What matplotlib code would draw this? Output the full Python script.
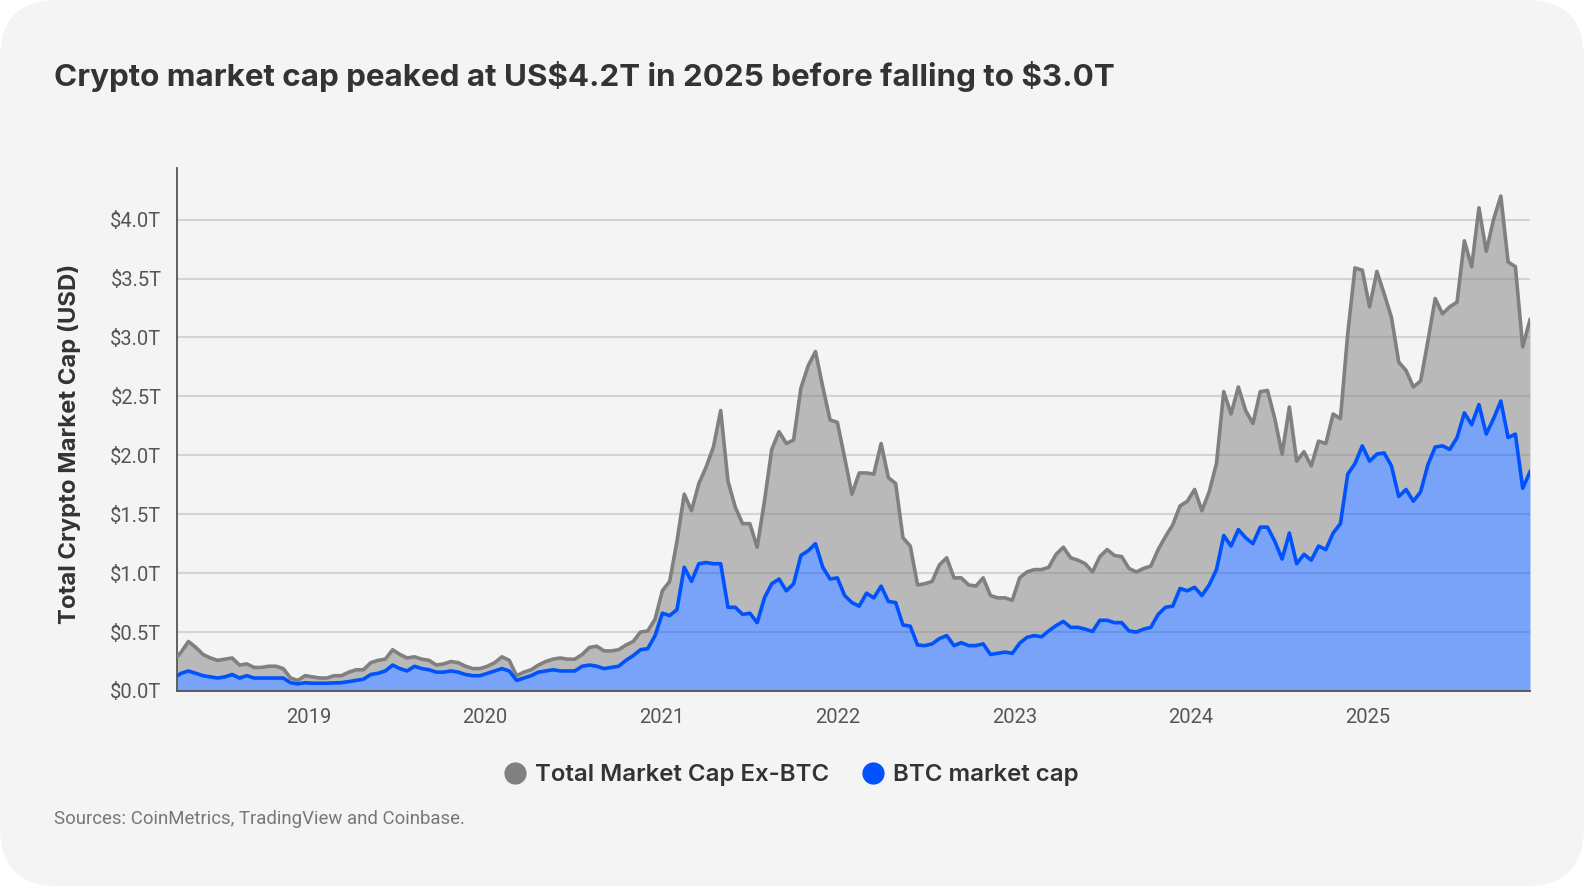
import matplotlib
matplotlib.use("Agg")
import matplotlib.pyplot as plt
import matplotlib.dates as mdates
from matplotlib.patches import FancyBboxPatch
from matplotlib.lines import Line2D
from matplotlib.ticker import MultipleLocator, FuncFormatter
import pandas as pd

# roughly semi-monthly samples, in trillions of USD
start_date = "2018-03-28"
end_date = "2025-12-04"

total_cap = [
    # 2018
    0.26, 0.33, 0.42, 0.37, 0.31, 0.28, 0.26, 0.27, 0.28, 0.22, 0.23, 0.20, 0.20, 0.21, 0.21, 0.19, 0.11, 0.09,
    # 2019
    0.13, 0.12, 0.11, 0.11, 0.13, 0.13, 0.16, 0.18, 0.18, 0.24, 0.26, 0.27, 0.35, 0.31, 0.28, 0.29, 0.27, 0.26,
    0.22, 0.23, 0.25, 0.24, 0.21, 0.19,
    # 2020
    0.19, 0.21, 0.24, 0.29, 0.26, 0.13, 0.16, 0.18, 0.22, 0.25, 0.27, 0.28, 0.27, 0.27, 0.31, 0.37, 0.38, 0.34,
    0.34, 0.35, 0.39, 0.42, 0.50, 0.51,
    # 2021
    0.61, 0.85, 0.93, 1.27, 1.67, 1.53, 1.76, 1.90, 2.07, 2.38, 1.78, 1.56, 1.42, 1.42, 1.22, 1.61, 2.05, 2.20,
    2.10, 2.13, 2.57, 2.76, 2.88, 2.58,
    # 2022
    2.30, 2.28, 1.98, 1.67, 1.85, 1.85, 1.84, 2.10, 1.81, 1.76, 1.30, 1.23, 0.90, 0.91, 0.93, 1.07, 1.13, 0.96,
    0.96, 0.90, 0.89, 0.96, 0.81, 0.79,
    # 2023
    0.79, 0.77, 0.96, 1.01, 1.03, 1.03, 1.05, 1.16, 1.22, 1.13, 1.11, 1.08, 1.01, 1.14, 1.20, 1.15, 1.14, 1.04,
    1.01, 1.04, 1.06, 1.20, 1.31, 1.41,
    # 2024
    1.57, 1.61, 1.71, 1.53, 1.69, 1.93, 2.54, 2.35, 2.58, 2.38, 2.27, 2.54, 2.55, 2.31, 2.01, 2.41, 1.95, 2.03,
    1.91, 2.12, 2.10, 2.35, 2.31, 3.03,
    # 2025
    3.59, 3.57, 3.26, 3.56, 3.37, 3.17, 2.79, 2.72, 2.58, 2.63, 2.97, 3.33, 3.20, 3.26, 3.30, 3.82, 3.60, 4.10,
    3.73, 4.00, 4.20, 3.64, 3.60, 2.92, 3.15,
]

btc_cap = [
    # 2018
    0.11, 0.15, 0.17, 0.15, 0.13, 0.12, 0.11, 0.12, 0.14, 0.11, 0.13, 0.11, 0.11, 0.11, 0.11, 0.11, 0.07, 0.06,
    # 2019
    0.07, 0.066, 0.066, 0.066, 0.069, 0.071, 0.08, 0.09, 0.10, 0.14, 0.15, 0.17, 0.22, 0.19, 0.17, 0.21, 0.19, 0.18,
    0.16, 0.16, 0.17, 0.16, 0.14, 0.13,
    # 2020
    0.13, 0.15, 0.17, 0.19, 0.17, 0.09, 0.11, 0.13, 0.16, 0.17, 0.18, 0.17, 0.17, 0.17, 0.21, 0.22, 0.21, 0.19,
    0.20, 0.21, 0.26, 0.30, 0.35, 0.36,
    # 2021
    0.47, 0.66, 0.64, 0.69, 1.05, 0.93, 1.08, 1.09, 1.08, 1.08, 0.71, 0.71, 0.65, 0.66, 0.58, 0.79, 0.91, 0.95,
    0.85, 0.91, 1.15, 1.19, 1.25, 1.05,
    # 2022
    0.95, 0.96, 0.81, 0.75, 0.72, 0.83, 0.79, 0.89, 0.76, 0.75, 0.56, 0.55, 0.39, 0.385, 0.40, 0.445, 0.47, 0.385,
    0.41, 0.385, 0.385, 0.40, 0.31, 0.32,
    # 2023
    0.33, 0.32, 0.405, 0.455, 0.47, 0.46, 0.51, 0.555, 0.59, 0.54, 0.54, 0.525, 0.505, 0.60, 0.60, 0.58, 0.58, 0.51,
    0.50, 0.525, 0.54, 0.65, 0.71, 0.72,
    # 2024
    0.87, 0.85, 0.88, 0.81, 0.90, 1.03, 1.32, 1.23, 1.37, 1.30, 1.25, 1.39, 1.39, 1.27, 1.12, 1.34, 1.08, 1.16,
    1.11, 1.23, 1.20, 1.34, 1.42, 1.84,
    # 2025
    1.93, 2.08, 1.95, 2.01, 2.02, 1.91, 1.65, 1.71, 1.61, 1.69, 1.92, 2.07, 2.08, 2.05, 2.15, 2.36, 2.26, 2.43,
    2.18, 2.31, 2.46, 2.15, 2.18, 1.72, 1.86,
]

series_labels = ["Total Market Cap Ex-BTC", "BTC market cap"]
title = r"Crypto market cap peaked at US\$4.2T in 2025 before falling to \$3.0T"
y_title = "Total Crypto Market Cap (USD)"
source = "Sources: CoinMetrics, TradingView and Coinbase."

assert len(total_cap) == len(btc_cap)
dates = pd.date_range(start_date, end_date, periods=len(total_cap))

grey = "#808080"
blue = "#0052ff"
ink = "#333333"

fig = plt.figure(figsize=(15.84, 8.86), dpi=100)
fig.patch.set_facecolor("white")
# rounded card behind everything
card = FancyBboxPatch((0, 0), 15.84, 8.86, boxstyle="round,pad=0,rounding_size=0.58",
                      transform=fig.dpi_scale_trans, facecolor="#f4f4f4", edgecolor="none", zorder=-10)
fig.add_artist(card)

ax = fig.add_axes([0.1116, 0.2201, 0.8543, 0.5906])
ax.set_facecolor("none")

ax.fill_between(dates, 0, btc_cap, color=blue, alpha=0.5, lw=0, zorder=1)
ax.fill_between(dates, btc_cap, total_cap, color=grey, alpha=0.5, lw=0, zorder=1)
ax.plot(dates, total_cap, color=grey, lw=2.6, zorder=3, solid_joinstyle="round")
ax.plot(dates, btc_cap, color=blue, lw=2.6, zorder=4, solid_joinstyle="round")

ax.set_xlim(pd.Timestamp("2018-04-03"), pd.Timestamp(end_date))
ax.set_ylim(0, 4.44)
ax.xaxis.set_major_locator(mdates.YearLocator())
ax.xaxis.set_major_formatter(mdates.DateFormatter("%Y"))
ax.yaxis.set_major_locator(MultipleLocator(0.5))
ax.yaxis.set_major_formatter(FuncFormatter(lambda v, p: f"${v:.1f}T"))

ax.set_axisbelow(True)
ax.yaxis.grid(True, color="#d4d4d4", lw=1.5)
for s in ["top", "right"]:
    ax.spines[s].set_visible(False)
for s in ["left", "bottom"]:
    ax.spines[s].set_color("#555555")
    ax.spines[s].set_linewidth(1.3)

ax.tick_params(length=0, labelsize=14.5, labelcolor="#555555")
ax.tick_params(axis="x", pad=12)
ax.tick_params(axis="y", pad=11)
for lab in ax.get_xticklabels() + ax.get_yticklabels():
    lab.set_family("Roboto")

fig.text(54.5 / 1584, 1 - 76 / 886, title, fontsize=22.6, fontweight="bold", color=ink,
         va="center", ha="left", family="Inter")
fig.text(70 / 1584, 1 - 444 / 886, y_title, fontsize=17.2, fontweight="bold", color=ink,
         va="center", ha="center", rotation=90, family="Inter")

handles = [
    Line2D([], [], marker="o", ls="none", markersize=16, markerfacecolor=grey, markeredgecolor="none",
           label=series_labels[0]),
    Line2D([], [], marker="o", ls="none", markersize=16, markerfacecolor=blue, markeredgecolor="none",
           label=series_labels[1]),
]
fig.legend(handles=handles, loc="center", bbox_to_anchor=(0.4994, 1 - 775 / 886), ncol=2, frameon=False,
           prop={"family": "Inter", "weight": "semibold", "size": 17.3}, handlelength=1.0,
           handletextpad=0.35, columnspacing=1.3, labelcolor=ink)

fig.text(54.5 / 1584, 1 - 819 / 886, source, fontsize=13.4, color="#777777", va="center", ha="left",
         family="Roboto")

fig.savefig("out.png", dpi=100, facecolor=fig.get_facecolor())
